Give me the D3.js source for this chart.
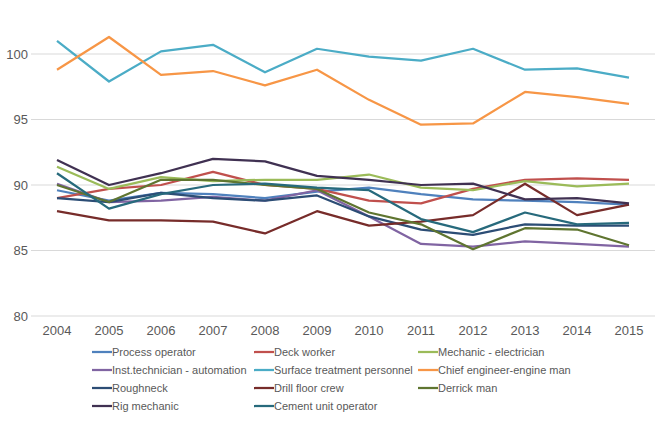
<!DOCTYPE html>
<html>
<head>
<meta charset="utf-8">
<script src="https://cdn.jsdelivr.net/npm/d3@7"></script>
<style>
  body { margin: 0; background: #fff; }
  text { font-family: "Liberation Sans", Arial, sans-serif; }
</style>
</head>
<body>
<div id="chart"></div>
<script>
// Data
const years = ["2004", "2005", "2006", "2007", "2008", "2009", "2010", "2011", "2012", "2013", "2014", "2015"];
const yTicks = [80, 85, 90, 95, 100];

const seriesNames = [
    "Process operator", "Deck worker", "Mechanic - electrician",
    "Inst.technician - automation", "Surface treatment personnel", "Chief engineer-engine man",
    "Roughneck", "Drill floor crew", "Derrick man",
    "Rig mechanic", "Cement unit operator"
];

const processOperator = [89.6, 88.8, 89.4, 89.3, 89.0, 89.5, 89.8, 89.3, 88.9, 88.8, 88.7, 88.5];
const deckWorker = [89.0, 89.7, 90.0, 91.0, 90.0, 89.7, 88.8, 88.6, 89.7, 90.4, 90.5, 90.4];
const mechanicElectrician = [91.4, 89.7, 90.6, 90.3, 90.4, 90.4, 90.8, 89.8, 89.6, 90.3, 89.9, 90.1];
const instTechnician = [90.1, 88.7, 88.8, 89.1, 88.8, 89.6, 87.6, 85.5, 85.3, 85.7, 85.5, 85.3];
const surfaceTreatment = [101.0, 97.9, 100.2, 100.7, 98.6, 100.4, 99.8, 99.5, 100.4, 98.8, 98.9, 98.2];
const chiefEngineer = [98.8, 101.3, 98.4, 98.7, 97.6, 98.8, 96.5, 94.6, 94.7, 97.1, 96.7, 96.2];
const roughneck = [89.0, 88.7, 89.4, 89.0, 88.8, 89.2, 87.6, 86.6, 86.2, 87.0, 86.9, 86.9];
const drillFloorCrew = [88.0, 87.3, 87.3, 87.2, 86.3, 88.0, 86.9, 87.2, 87.7, 90.1, 87.7, 88.5];
const derrickMan = [90.0, 88.7, 90.4, 90.4, 90.0, 89.7, 87.9, 87.0, 85.1, 86.7, 86.6, 85.4];
const rigMechanic = [91.9, 90.0, 90.9, 92.0, 91.8, 90.7, 90.4, 90.0, 90.1, 88.9, 89.0, 88.6];
const cementOperator = [90.9, 88.2, 89.3, 90.0, 90.1, 89.8, 89.6, 87.4, 86.4, 87.9, 87.0, 87.1];

const seriesValues = [
    processOperator, deckWorker, mechanicElectrician,
    instTechnician, surfaceTreatment, chiefEngineer,
    roughneck, drillFloorCrew, derrickMan,
    rigMechanic, cementOperator
];

const colors = [
    "#4F81BD", "#C0504D", "#9BBB59",
    "#8064A2", "#4BACC6", "#F79646",
    "#2C4D75", "#772C2A", "#5F7530",
    "#403152", "#276A7C"
];

// Layout
const width = 667;
const height = 422;
const plot = { left: 31, right: 655, top: 54, bottom: 316 };

const svg = d3.select("#chart")
    .append("svg")
    .attr("width", width)
    .attr("height", height);

const x = d3.scaleBand()
    .domain(years)
    .range([plot.left, plot.right]);

const y = d3.scaleLinear()
    .domain([80, 100])
    .range([plot.bottom, plot.top]);

// Gridlines
svg.append("g")
    .selectAll("line")
    .data(yTicks)
    .enter().append("line")
    .attr("x1", plot.left)
    .attr("x2", plot.right)
    .attr("y1", d => y(d))
    .attr("y2", d => y(d))
    .attr("stroke", "#D9D9D9")
    .attr("stroke-width", 1);

// Y axis labels
svg.append("g")
    .selectAll("text")
    .data(yTicks)
    .enter().append("text")
    .attr("x", plot.left - 3)
    .attr("y", d => y(d))
    .attr("dy", "0.35em")
    .attr("text-anchor", "end")
    .attr("font-size", 13)
    .attr("fill", "#595959")
    .text(d => d);

// X axis labels
svg.append("g")
    .selectAll("text")
    .data(years)
    .enter().append("text")
    .attr("x", d => x(d) + x.bandwidth() / 2)
    .attr("y", plot.bottom + 19)
    .attr("text-anchor", "middle")
    .attr("font-size", 13)
    .attr("fill", "#595959")
    .text(d => d);

// Lines
const line = d3.line()
    .x((d, i) => x(years[i]) + x.bandwidth() / 2)
    .y(d => y(d));

svg.append("g")
    .selectAll("path")
    .data(seriesValues)
    .enter().append("path")
    .attr("d", line)
    .attr("fill", "none")
    .attr("stroke", (d, i) => colors[i])
    .attr("stroke-width", 2.25)
    .attr("stroke-linejoin", "round");

// Legend
const legendCols = [92, 254, 418];
const legendTop = 352;
const legendRow = 18;

const legend = svg.append("g")
    .selectAll("g")
    .data(seriesNames)
    .enter().append("g")
    .attr("transform", (d, i) => `translate(${legendCols[i % 3]}, ${legendTop + Math.floor(i / 3) * legendRow})`);

legend.append("line")
    .attr("x1", 0)
    .attr("x2", 20)
    .attr("stroke", (d, i) => colors[i])
    .attr("stroke-width", 2.25);

legend.append("text")
    .attr("x", 20)
    .attr("dy", "0.35em")
    .attr("font-size", 11)
    .attr("fill", "#595959")
    .text(d => d);
</script>
</body>
</html>
